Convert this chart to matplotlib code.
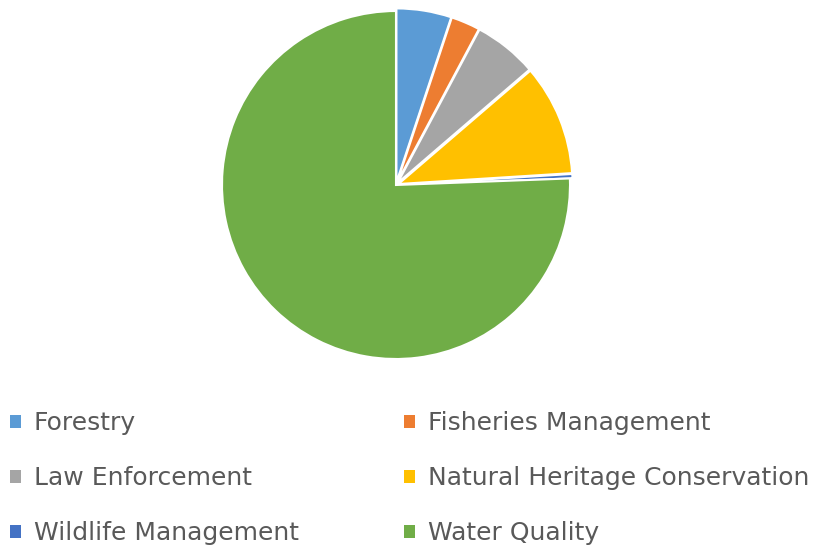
import matplotlib
matplotlib.use("Agg")
import matplotlib.pyplot as plt
from matplotlib.patches import Patch

categories = [
    "Forestry",
    "Fisheries Management",
    "Law Enforcement",
    "Natural Heritage Conservation",
    "Wildlife Management",
    "Water Quality",
]
shares = [5.1, 2.7, 5.9, 10.3, 0.4, 75.6]
colors = ["#5B9BD5", "#ED7D31", "#A5A5A5", "#FFC000", "#4472C4", "#70AD47"]
explode = [0.015, 0.015, 0.015, 0.015, 0.015, 0.0]

fig = plt.figure(figsize=(8.36, 5.46), dpi=100)

# pie axes: centre ~ (396, 185) px, radius ~ 174 px
R = 174
lim = 1.2
size = 2 * lim * R
cx, cy = 396, 546 - 185
ax = fig.add_axes([(cx - size / 2) / 836, (cy - size / 2) / 546, size / 836, size / 546])
ax.pie(
    shares,
    colors=colors,
    startangle=90,
    counterclock=False,
    explode=explode,
    radius=1.0,
    wedgeprops=dict(edgecolor="white", linewidth=1.5),
)
ax.set_xlim(-lim, lim)
ax.set_ylim(-lim, lim)
ax.set_aspect("equal")
ax.axis("off")

# legend: two columns, filled row by row like the original
order = [0, 2, 4, 1, 3, 5]
handles = [Patch(facecolor=colors[i], edgecolor="none") for i in order]
labels = [categories[i] for i in order]
leg = fig.legend(
    handles,
    labels,
    ncol=2,
    loc="upper left",
    bbox_to_anchor=(0.0, 0.265),
    frameon=False,
    fontsize=18,
    handlelength=0.45,
    handleheight=0.45,
    handletextpad=0.5,
    columnspacing=4.2,
    labelspacing=1.24,
    borderaxespad=0.0,
)
for t in leg.get_texts():
    t.set_color("#595959")

fig.savefig("out.png", dpi=100)
